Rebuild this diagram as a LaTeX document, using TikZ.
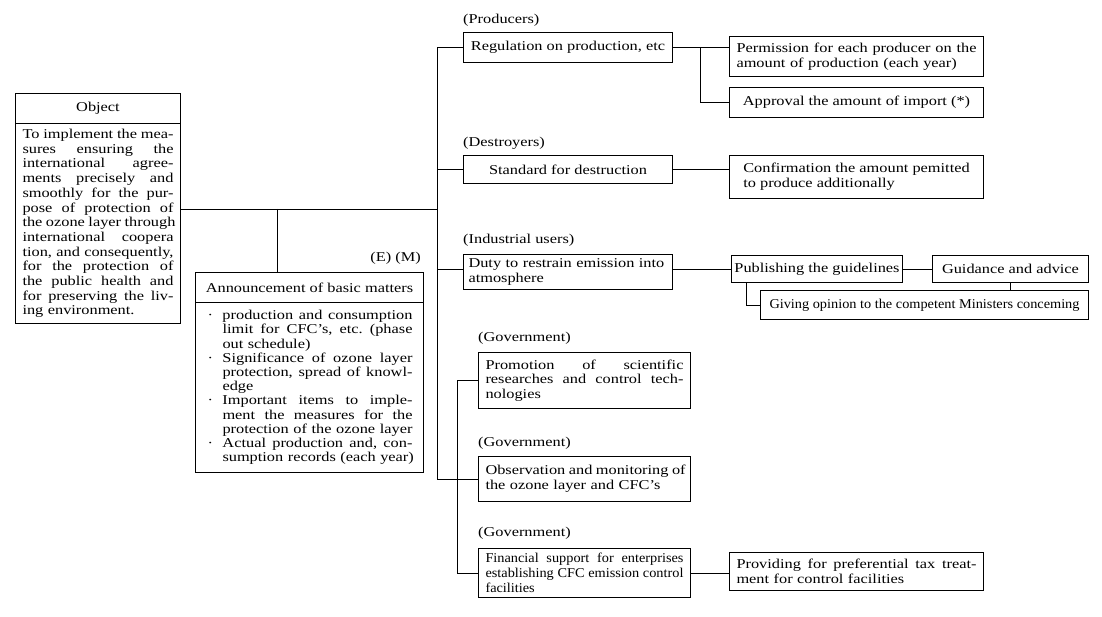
\documentclass[tikz,border=0pt]{standalone}
\usepackage{fontspec}
\setmainfont[FakeStretch=1.21]{Liberation Serif}
\newfontfamily\narrowf[FakeStretch=1.06]{Liberation Serif}
\newcommand\jbox[2]{\leavevmode{\frenchspacing\spaceskip=3.5pt plus 1fil\relax\hbox to #1{#2}}}
\newcommand\jline[1]{\jbox{\hsize}{#1}\\}
\newcommand\abul[1]{\leavevmode\hspace*{12pt}\makebox[15pt][l]{·}\jbox{190pt}{#1}\\}
\newcommand\aline[1]{\leavevmode\hspace*{27pt}\jbox{190pt}{#1}\\}
\newcommand\aend[1]{\leavevmode\hspace*{27pt}#1}
\begin{document}
\begin{tikzpicture}[x=1pt,y=-1pt,
  txt/.style={font=\fontsize{13.5}{14.7}\selectfont},
  bx/.style={txt,draw,line width=1pt,inner xsep=7pt,inner ysep=0pt,anchor=north west},
  lbl/.style={txt,inner sep=0pt,anchor=west},
  ln/.style={line width=0.8pt}]
\fill[white] (0,0) rectangle (1102,617);
\useasboundingbox (0,0) rectangle (1102,617);

% Object
\node[bx,minimum width=165pt,minimum height=30pt] (objh) at (15,93) {Object};
\node[bx,text width=151pt,minimum height=200pt] (objb) at (15,123) {%
\jline{To implement the mea-}%
\jline{sures ensuring the}%
\jline{international agree-}%
\jline{ments precisely and}%
\jline{smoothly for the pur-}%
\jline{pose of protection of}%
\jline{the ozone layer through}%
\jline{international coopera}%
\jline{tion, and consequently,}%
\jline{for the protection of}%
\jline{the public health and}%
\jline{for preserving the liv-}%
ing environment.};

% Announcement
\node[lbl,anchor=east] (em) at (421,258) {(E) (M)};
\node[bx,minimum width=228pt,minimum height=30pt] (annh) at (195,272) {Announcement of basic matters};
\node[bx,inner xsep=0pt,text width=228pt,minimum height=170pt,font=\fontsize{13.5}{14.2}\selectfont] (annb) at (195,302) {%
\abul{production and consumption}%
\aline{limit for CFC's, etc. (phase}%
\aend{out schedule)}\\%
\abul{Significance of ozone layer}%
\aline{protection, spread of knowl-}%
\aend{edge}\\%
\abul{Important items to imple-}%
\aline{ment the measures for the}%
\aline{protection of the ozone layer}%
\abul{Actual production and, con-}%
\aend{sumption records (each year)}};

% Producers
\node[lbl] (lprod) at (463,20) {(Producers)};
\node[bx,minimum width=209pt,minimum height=30pt] (reg) at (463,32) {Regulation on production, etc};
\node[bx,text width=240pt,minimum height=40pt] (perm) at (729,36) {%
\jline{Permission for each producer on the}%
amount of production (each year)};
\node[bx,minimum width=254pt,minimum height=30pt] (appr) at (729,87) {Approval the amount of import (*)};

% Destroyers
\node[lbl] (ldest) at (463,143) {(Destroyers)};
\node[bx,minimum width=209pt,minimum height=28pt] (stand) at (463,155) {Standard for destruction};
\node[bx,minimum width=254pt,minimum height=43pt,align=left] (conf) at (729,155) {Confirmation the amount pemitted\\to produce additionally};

% Industrial users
\node[lbl] (lind) at (463,240) {(Industrial users)};
\node[bx,inner xsep=5pt,text width=199pt,minimum height=35pt,align=left] (duty) at (463,254) {Duty to restrain emission into\\atmosphere};
\node[bx,minimum width=171pt,minimum height=27pt,inner xsep=2pt] (pub) at (731,255) {Publishing the guidelines};
\node[bx,minimum width=156pt,minimum height=27pt,inner xsep=2pt] (guid) at (932,255) {Guidance and advice};
\node[bx,minimum width=328pt,minimum height=29pt,inner xsep=2pt,font=\narrowf\fontsize{13.5}{14.7}\selectfont] (giv) at (760,290) {Giving opinion to the competent Ministers conceming};

% Government
\node[lbl] (lgov1) at (478,338) {(Government)};
\node[bx,text width=198pt,minimum height=56pt] (prom) at (478,352) {%
\jline{Promotion of scientific}%
\jline{researches and control tech-}%
nologies};
\node[lbl] (lgov2) at (478,443) {(Government)};
\node[bx,text width=198pt,minimum height=45pt] (obs) at (478,456) {%
\jline{Observation and monitoring of}%
the ozone layer and CFC's};
\node[lbl] (lgov3) at (478,533) {(Government)};
\node[bx,text width=198pt,minimum height=49pt,font=\narrowf\fontsize{13.5}{14.7}\selectfont] (fin) at (478,548) {%
\jline{Financial support for enterprises}%
\jline{establishing CFC emission control}%
facilities};
\node[bx,text width=240pt,minimum height=38pt] (prov) at (729,552) {%
\jline{Providing for preferential tax treat-}%
ment for control facilities};

% connectors
\coordinate (tx) at (437,0);
\coordinate (oj) at (0,209);
\coordinate (aj) at (277,209);
\coordinate (gx) at (457,0);
\coordinate (rx) at (700,0);
\coordinate (px) at (746,0);

\draw[ln] (reg.west -| tx) -- (obs.west -| tx);
\draw[ln] (objb.east |- oj) -- (oj -| tx);
\draw[ln] (aj) -- (aj |- annh.north);
\draw[ln] (reg.west -| tx) -- (reg.west);
\draw[ln] (stand.west -| tx) -- (stand.west);
\draw[ln] (pub.west -| tx) -- (pub.west -| duty.west);
\draw[ln] (obs.west -| tx) -- (obs.west);
\draw[ln] (prom.west) -- (prom.west -| gx) -- (fin.west -| gx) -- (fin.west);
\draw[ln] (fin.east) -- (fin.east -| prov.west);
\draw[ln] (reg.east) -- (reg.east -| perm.west);
\draw[ln] (reg.east -| rx) -- (appr.west -| rx) -- (appr.west);
\draw[ln] (stand.east) -- (stand.east -| conf.west);
\draw[ln] (pub.west -| duty.east) -- (pub.west);
\draw[ln] (pub.east) -- (guid.west);
\draw[ln] (guid.south) -- (guid.south |- giv.north);
\draw[ln] (pub.south -| px) |- (giv.west);
\end{tikzpicture}
\end{document}
